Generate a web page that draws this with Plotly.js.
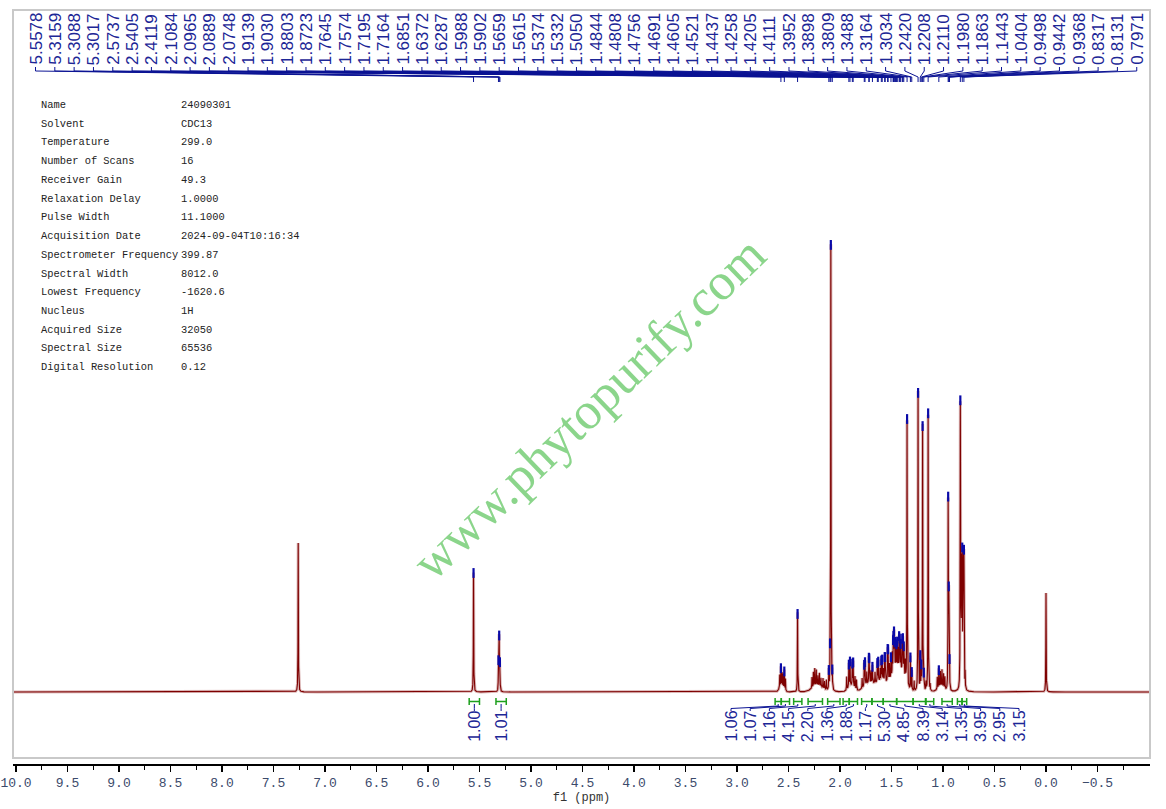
<!DOCTYPE html>
<html><head><meta charset="utf-8">
<script src="https://cdn.plot.ly/plotly-3.0.1.min.js"></script>
<style>html,body{margin:0;padding:0;background:#fff;}#chart{width:1166px;height:809px;}</style>
</head><body><div id="chart"></div>
<script>
// ---- spectrum lines (ppm, height in baseline units) ----
const linePpm = [7.2600,5.5578,5.3159,5.3088,5.3017,
 2.5850,2.5737,2.5630,2.5520,2.5405,2.5300,2.4119,
 2.2720,2.2580,2.2450,2.2300,2.2150,2.2000,2.1850,2.1650,2.1500,2.1320,
 2.1084,2.0965,2.0889,2.0748,
 1.9350,1.9139,1.9030,1.8803,1.8723,1.8550,1.8400,
 1.7850,1.7645,1.7574,1.7400,1.7195,1.7164,1.6990,1.6851,1.6600,1.6372,1.6287,1.6100,
 1.5988,1.5902,1.5790,1.5659,1.5615,1.5374,1.5332,1.5200,1.5050,1.4920,
 1.4844,1.4808,1.4756,1.4691,1.4605,1.4521,1.4437,1.4350,1.4258,1.4205,1.4111,
 1.3952,1.3898,1.3809,1.3650,1.3488,1.3164,1.3034,1.2800,
 1.2420,1.2208,1.2110,1.1980,1.1863,1.1650,1.1443,1.1250,
 1.0550,1.0404,1.0250,1.0100,0.9950,0.9820,
 0.9498,0.9442,0.9368,
 0.8317,0.8250,0.8190,0.8131,0.8060,0.8010,0.7971,0.7850,
 0.0000];
const lineHeight = [149,121,30,55,28,
 13,20,14,14,20,12,80,
 11,15,18,16,10,13,9,10,8,10,
 19,26,447,17,
 13,24,26,23,25,12,10,
 10,22,24,12,22,21,12,18,11,20,21,12,
 21,22,12,23,23,30,29,16,22,22,
 28,30,38,28,30,27,30,22,33,30,27,
 31,32,28,18,268,34,20,10,
 300,34,22,266,14,8,280,6,
 12,19,15,17,14,12,
 188,88,26,
 282,105,110,122,105,104,118,16,
 99];
// broad envelopes under the multiplets
const humpPpm = [2.57,2.22,1.89,1.72,1.60,1.46,1.39,1.02];
const humpHeight = [5,6,6,8,10,17,12,5];
const humpWidth = [0.02,0.05,0.03,0.05,0.05,0.05,0.03,0.03];

// ---- axis tick labels ----
const tickValues = [10.0,9.5,9.0,8.5,8.0,7.5,7.0,6.5,6.0,5.5,5.0,4.5,4.0,3.5,3.0,2.5,2.0,1.5,1.0,0.5,0.0,-0.5];
const tickLabels = ["10.0","9.5","9.0","8.5","8.0","7.5","7.0","6.5","6.0","5.5","5.0","4.5","4.0","3.5","3.0","2.5","2.0","1.5","1.0","0.5","0.0","\u22120.5"];

// ---- picked peak labels (top) ----
const peakLabels = ["5.5578","5.3159","5.3088","5.3017","2.5737","2.5405","2.4119","2.1084","2.0965","2.0889","2.0748",
 "1.9139","1.9030","1.8803","1.8723","1.7645","1.7574","1.7195","1.7164","1.6851","1.6372","1.6287","1.5988","1.5902",
 "1.5659","1.5615","1.5374","1.5332","1.5050","1.4844","1.4808","1.4756","1.4691","1.4605","1.4521","1.4437","1.4258",
 "1.4205","1.4111","1.3952","1.3898","1.3809","1.3488","1.3164","1.3034","1.2420","1.2208","1.2110","1.1980","1.1863",
 "1.1443","1.0404","0.9498","0.9442","0.9368","0.8317","0.8131","0.7971"];

// ---- integrals ----
const integralFrom = [5.60,5.34,2.63,2.57,2.45,2.31,2.12,1.97,1.91,1.79,1.69,1.58,1.45,1.29,1.165,1.01,0.86,0.815];
const integralTo   = [5.50,5.24,2.57,2.49,2.37,2.17,2.00,1.91,1.83,1.69,1.58,1.45,1.29,1.17,1.09,0.91,0.815,0.77];
const integralValues = ["1.00","1.01","1.06","1.07","1.16","4.15","2.20","1.36","1.88","1.17","5.30","4.85","8.39","3.14","1.35","3.95","2.95","3.15"];

// ---- acquisition parameters ----
const paramNames = ["Name","Solvent","Temperature","Number of Scans","Receiver Gain","Relaxation Delay","Pulse Width",
 "Acquisition Date","Spectrometer Frequency","Spectral Width","Lowest Frequency","Nucleus","Acquired Size","Spectral Size","Digital Resolution"];
const paramValues = ["24090301","CDC13","299.0","16","49.3","1.0000","11.1000","2024-09-04T10:16:34","399.87","8012.0","-1620.6","1H","32050","65536","0.12"];

const watermark = "www.phytopurify.com";

// ---- geometry helpers (pixel <-> axis units) ----
const X0 = 10.029, X1 = -1.0097, PL = 13, PW = 1137;
function pxToPpm(px){ return X0 - (px - PL) * (X0 - X1) / PW; }
function pyToY(py){ return 692 - py; }

const LW = 0.0018;
function spectrum(x){
  let s = 0;
  for (let i = 0; i < linePpm.length; i++){ const d = (x - linePpm[i]) / LW; s += lineHeight[i] / (1 + d*d); }
  for (let i = 0; i < humpPpm.length; i++){ const d = (x - humpPpm[i]) / humpWidth[i]; s += humpHeight[i] * Math.exp(-0.5*d*d); }
  return s;
}
const xs = [], ys = [];
const N = Math.round((X0 - X1) / 0.0005);
for (let k = 0; k <= N; k++){ const x = X0 - k*0.0005; xs.push(x); ys.push(spectrum(x)); }

const labelPpm = peakLabels.map(parseFloat);
const markerY = labelPpm.map(p => spectrum(p) - 2);

const NAVY = '#0c1494', TXT = '#1c2696', GREEN = '#1ea01e';
const shapes = [], annotations = [];

// frame
shapes.push({type:'rect', xref:'paper', yref:'paper', x0:0, x1:1, y0:(764-758)/754, y1:1, line:{color:'#c9c9c9', width:2}});

// top labels + fan lines
peakLabels.forEach((t, i) => {
  const lp = pxToPpm(35.5 + i*19.32);
  annotations.push({x: lp, y: pyToY(66), xref:'x', yref:'y', text: t, textangle: -90, showarrow:false,
    xanchor:'center', yanchor:'bottom', borderpad:0, font:{family:'Liberation Sans, Arial', size:17, color:TXT}});
  shapes.push({type:'path', xref:'x', yref:'y', line:{color:NAVY, width:1},
    path:`M${lp},${pyToY(67)} L${lp},${pyToY(71)} L${labelPpm[i]},${pyToY(77)} L${labelPpm[i]},${pyToY(82)}`});
});

// integrals
integralValues.forEach((t, j) => {
  const a = integralFrom[j], b = integralTo[j], c = (a + b) / 2;
  shapes.push({type:'path', xref:'x', yref:'y', line:{color:GREEN, width:1.5},
    path:`M${a},${pyToY(698)} L${a},${pyToY(705)} M${a},${pyToY(701.5)} L${b},${pyToY(701.5)} M${b},${pyToY(698)} L${b},${pyToY(705)}`});
  const lp = j < 2 ? c : pxToPpm(731 + (j-2)*19.2);
  shapes.push({type:'path', xref:'x', yref:'y', line:{color:NAVY, width:1},
    path:`M${c},${pyToY(704)} L${c},${pyToY(706)} L${lp},${pyToY(708.5)} L${lp},${pyToY(711)}`});
  annotations.push({x: lp, y: pyToY(710), xref:'x', yref:'y', text: t, textangle:-90, showarrow:false,
    xanchor:'center', yanchor:'top', borderpad:0, font:{family:'Liberation Sans, Arial', size:16, color:TXT}});
});

// parameter table
paramNames.forEach((n, r) => {
  const py = 105 + r*18.73;
  annotations.push({x: pxToPpm(40), y: pyToY(py), xref:'x', yref:'y', text:n, showarrow:false, xanchor:'left', yanchor:'middle',
    borderpad:0, font:{family:'Liberation Mono, monospace', size:10.4, color:'#222'}});
  annotations.push({x: pxToPpm(180), y: pyToY(py), xref:'x', yref:'y', text:paramValues[r], showarrow:false, xanchor:'left', yanchor:'middle',
    borderpad:0, font:{family:'Liberation Mono, monospace', size:10.4, color:'#222'}});
});

// watermark
annotations.push({x: pxToPpm(588), y: pyToY(408), xref:'x', yref:'y', text: watermark, textangle:-44, showarrow:false,
  xanchor:'center', yanchor:'middle', font:{family:'Liberation Serif, Times New Roman, serif', size:52, color:'rgba(110,202,110,0.8)'}});

const minorVals = tickValues.map(v => v - 0.25);

const traces = [
  {type:'scatter', mode:'lines', x: xs, y: ys, line:{color:'rgba(175,95,95,0.45)', width:3}, hoverinfo:'skip'},
  {type:'scatter', mode:'lines', x: xs, y: ys, line:{color:'#7e0000', width:1.1}, hoverinfo:'skip'},
  {type:'scatter', mode:'markers', x: labelPpm, y: markerY, marker:{symbol:'line-ns', size:7, line:{color:'#0a0aa8', width:2.2}}, hoverinfo:'skip'}
];

const layout = {
  width:1166, height:809, margin:{l:13, r:16, t:10, b:45}, paper_bgcolor:'#fff', plot_bgcolor:'#fff', showlegend:false,
  xaxis:{range:[X0, X1], tickmode:'array', tickvals:tickValues, ticktext:tickLabels, ticks:'outside', ticklen:6, tickwidth:1.5,
    tickcolor:'#000', showline:true, linecolor:'#000', linewidth:1.5, showgrid:false, zeroline:false, automargin:false,
    minor:{tickmode:'array', tickvals:minorVals, ticks:'outside', ticklen:4, tickwidth:1.2, tickcolor:'#000', showgrid:false},
    tickfont:{family:'Liberation Mono, monospace', size:13, color:'#3b4a6b'},
    title:{text:'f1 (ppm)', font:{family:'Liberation Mono, monospace', size:12, color:'#333'}, standoff:2}},
  yaxis:{range:[-72, 682], visible:false, showgrid:false, zeroline:false},
  shapes: shapes, annotations: annotations
};
Plotly.newPlot('chart', traces, layout, {staticPlot:true, displayModeBar:false});
</script></body></html>
